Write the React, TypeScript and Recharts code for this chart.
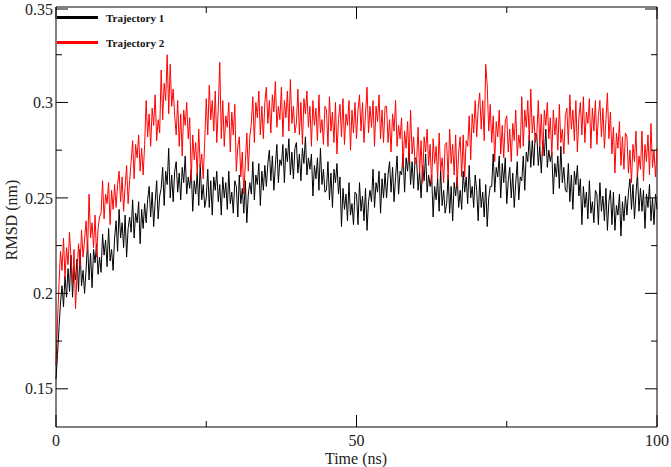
import { LineChart, Line, XAxis, YAxis, ReferenceLine, Legend } from 'recharts'

// RMSD sampled every 0.25 ns, 0 .. 100 ns (one line = 5 ns)
const sampleStepNs = 0.25

const traj1Rmsd = [
  0.155, 0.168, 0.182, 0.195, 0.204, 0.193, 0.209, 0.198, 0.213, 0.201, 0.220, 0.198, 0.214, 0.207, 0.218, 0.201, 0.223, 0.204, 0.212, 0.200,
  0.212, 0.227, 0.207, 0.221, 0.203, 0.223, 0.216, 0.226, 0.210, 0.219, 0.211, 0.231, 0.220, 0.228, 0.214, 0.234, 0.217, 0.223, 0.212, 0.229,
  0.238, 0.222, 0.244, 0.229, 0.237, 0.224, 0.241, 0.219, 0.234, 0.240, 0.232, 0.249, 0.229, 0.242, 0.237, 0.248, 0.226, 0.244, 0.234, 0.247,
  0.237, 0.249, 0.256, 0.240, 0.253, 0.235, 0.248, 0.259, 0.239, 0.251, 0.255, 0.266, 0.246, 0.264, 0.257, 0.276, 0.250, 0.262, 0.248, 0.264,
  0.269, 0.253, 0.263, 0.249, 0.266, 0.258, 0.272, 0.252, 0.261, 0.255, 0.265, 0.243, 0.259, 0.252, 0.263, 0.246, 0.268, 0.249, 0.257, 0.245,
  0.250, 0.265, 0.245, 0.259, 0.241, 0.261, 0.254, 0.264, 0.248, 0.257, 0.241, 0.261, 0.250, 0.258, 0.244, 0.264, 0.247, 0.253, 0.242, 0.259,
  0.256, 0.240, 0.262, 0.247, 0.255, 0.242, 0.259, 0.237, 0.252, 0.258, 0.252, 0.269, 0.249, 0.262, 0.257, 0.268, 0.246, 0.264, 0.254, 0.267,
  0.256, 0.268, 0.275, 0.259, 0.272, 0.254, 0.267, 0.278, 0.258, 0.270, 0.267, 0.278, 0.258, 0.276, 0.269, 0.281, 0.262, 0.274, 0.260, 0.276,
  0.279, 0.263, 0.273, 0.259, 0.276, 0.268, 0.282, 0.262, 0.271, 0.265, 0.273, 0.251, 0.267, 0.260, 0.271, 0.254, 0.276, 0.257, 0.265, 0.253,
  0.254, 0.269, 0.249, 0.263, 0.245, 0.265, 0.258, 0.268, 0.252, 0.261, 0.235, 0.255, 0.244, 0.252, 0.238, 0.258, 0.241, 0.247, 0.236, 0.253,
  0.252, 0.236, 0.258, 0.243, 0.251, 0.238, 0.255, 0.233, 0.248, 0.254, 0.248, 0.265, 0.245, 0.258, 0.253, 0.264, 0.242, 0.260, 0.250, 0.263,
  0.250, 0.262, 0.269, 0.253, 0.266, 0.248, 0.261, 0.272, 0.252, 0.264, 0.262, 0.273, 0.253, 0.271, 0.264, 0.276, 0.257, 0.269, 0.255, 0.271,
  0.270, 0.254, 0.264, 0.250, 0.267, 0.259, 0.273, 0.253, 0.262, 0.256, 0.262, 0.240, 0.256, 0.249, 0.260, 0.243, 0.265, 0.246, 0.254, 0.242,
  0.247, 0.262, 0.242, 0.256, 0.238, 0.258, 0.251, 0.261, 0.245, 0.254, 0.244, 0.264, 0.253, 0.261, 0.247, 0.267, 0.250, 0.256, 0.245, 0.262,
  0.254, 0.238, 0.260, 0.245, 0.253, 0.240, 0.257, 0.235, 0.250, 0.256, 0.256, 0.273, 0.253, 0.266, 0.261, 0.272, 0.250, 0.268, 0.258, 0.271,
  0.247, 0.259, 0.266, 0.250, 0.263, 0.245, 0.258, 0.269, 0.249, 0.261, 0.259, 0.272, 0.254, 0.274, 0.269, 0.283, 0.266, 0.280, 0.267, 0.284,
  0.283, 0.267, 0.277, 0.263, 0.280, 0.272, 0.286, 0.266, 0.275, 0.269, 0.274, 0.252, 0.268, 0.261, 0.272, 0.255, 0.277, 0.258, 0.266, 0.254,
  0.253, 0.268, 0.248, 0.262, 0.244, 0.264, 0.257, 0.267, 0.251, 0.260, 0.236, 0.256, 0.245, 0.253, 0.239, 0.259, 0.242, 0.248, 0.237, 0.254,
  0.252, 0.236, 0.258, 0.243, 0.251, 0.238, 0.255, 0.233, 0.248, 0.254, 0.236, 0.253, 0.233, 0.246, 0.241, 0.252, 0.230, 0.248, 0.238, 0.251,
  0.241, 0.253, 0.260, 0.244, 0.257, 0.239, 0.252, 0.263, 0.243, 0.255, 0.243, 0.254, 0.234, 0.252, 0.245, 0.257, 0.238, 0.250, 0.236, 0.252,
  0.244,
]

const traj2Rmsd = [
  0.162, 0.185, 0.205, 0.222, 0.212, 0.229, 0.208, 0.224, 0.215, 0.232, 0.218, 0.205, 0.223, 0.192, 0.210, 0.226, 0.214, 0.233, 0.219, 0.228,
  0.238, 0.222, 0.252, 0.229, 0.237, 0.224, 0.241, 0.219, 0.234, 0.240, 0.242, 0.259, 0.239, 0.252, 0.247, 0.258, 0.236, 0.254, 0.244, 0.257,
  0.245, 0.257, 0.264, 0.248, 0.261, 0.243, 0.256, 0.267, 0.247, 0.259, 0.269, 0.280, 0.260, 0.278, 0.271, 0.283, 0.264, 0.276, 0.262, 0.278,
  0.301, 0.282, 0.294, 0.277, 0.297, 0.288, 0.304, 0.280, 0.291, 0.284, 0.317, 0.291, 0.310, 0.301, 0.325, 0.294, 0.320, 0.298, 0.307, 0.293,
  0.283, 0.301, 0.277, 0.294, 0.272, 0.296, 0.288, 0.300, 0.281, 0.292, 0.259, 0.283, 0.270, 0.279, 0.262, 0.286, 0.266, 0.273, 0.260, 0.280,
  0.302, 0.283, 0.309, 0.291, 0.301, 0.285, 0.306, 0.279, 0.297, 0.321, 0.281, 0.301, 0.277, 0.293, 0.287, 0.300, 0.274, 0.295, 0.283, 0.299,
  0.264, 0.277, 0.282, 0.261, 0.274, 0.252, 0.268, 0.284, 0.264, 0.282, 0.289, 0.303, 0.279, 0.300, 0.292, 0.306, 0.283, 0.298, 0.281, 0.300,
  0.308, 0.289, 0.301, 0.284, 0.304, 0.295, 0.311, 0.287, 0.298, 0.291, 0.308, 0.282, 0.301, 0.292, 0.306, 0.285, 0.312, 0.289, 0.298, 0.284,
  0.289, 0.307, 0.283, 0.300, 0.278, 0.302, 0.294, 0.306, 0.287, 0.298, 0.277, 0.301, 0.288, 0.297, 0.280, 0.304, 0.284, 0.291, 0.278, 0.298,
  0.296, 0.277, 0.303, 0.285, 0.295, 0.279, 0.300, 0.273, 0.291, 0.299, 0.282, 0.302, 0.278, 0.294, 0.288, 0.301, 0.275, 0.296, 0.284, 0.300,
  0.281, 0.296, 0.304, 0.285, 0.300, 0.279, 0.294, 0.308, 0.284, 0.298, 0.287, 0.301, 0.277, 0.298, 0.290, 0.304, 0.281, 0.296, 0.279, 0.298,
  0.298, 0.279, 0.291, 0.274, 0.294, 0.285, 0.301, 0.277, 0.288, 0.281, 0.292, 0.266, 0.285, 0.276, 0.290, 0.269, 0.296, 0.273, 0.282, 0.268,
  0.269, 0.287, 0.263, 0.280, 0.258, 0.282, 0.274, 0.286, 0.267, 0.278, 0.257, 0.281, 0.268, 0.277, 0.260, 0.284, 0.264, 0.271, 0.258, 0.278,
  0.279, 0.260, 0.286, 0.268, 0.278, 0.262, 0.283, 0.256, 0.274, 0.282, 0.261, 0.283, 0.261, 0.280, 0.277, 0.293, 0.270, 0.294, 0.284, 0.301,
  0.282, 0.297, 0.305, 0.286, 0.301, 0.280, 0.320, 0.309, 0.285, 0.299, 0.279, 0.293, 0.269, 0.290, 0.282, 0.296, 0.273, 0.288, 0.271, 0.290,
  0.293, 0.274, 0.286, 0.269, 0.289, 0.280, 0.296, 0.272, 0.283, 0.276, 0.303, 0.277, 0.296, 0.287, 0.301, 0.280, 0.307, 0.284, 0.293, 0.279,
  0.283, 0.301, 0.277, 0.294, 0.272, 0.296, 0.288, 0.300, 0.281, 0.292, 0.272, 0.296, 0.283, 0.292, 0.275, 0.299, 0.279, 0.286, 0.273, 0.293,
  0.297, 0.278, 0.304, 0.286, 0.296, 0.280, 0.301, 0.274, 0.292, 0.300, 0.283, 0.303, 0.279, 0.295, 0.289, 0.302, 0.276, 0.297, 0.285, 0.301,
  0.278, 0.293, 0.301, 0.282, 0.297, 0.276, 0.291, 0.305, 0.281, 0.295, 0.273, 0.287, 0.263, 0.284, 0.276, 0.290, 0.267, 0.282, 0.265, 0.284,
  0.282, 0.263, 0.275, 0.258, 0.278, 0.269, 0.285, 0.261, 0.272, 0.265, 0.285, 0.259, 0.278, 0.269, 0.283, 0.262, 0.289, 0.266, 0.275, 0.261,
  0.276,
]

const xTicks = [0, 25, 50, 75, 100]
const xMajor = [0, 50, 100]
const yTicks = [0.15, 0.175, 0.2, 0.225, 0.25, 0.275, 0.3, 0.325, 0.35]
const yMajor = [0.15, 0.2, 0.25, 0.3, 0.35]

const seriesNames = ['Trajectory 1', 'Trajectory 2']
const seriesColors = ['#000000', '#ff0000']

const rows = traj1Rmsd.map((v, i) => ({
  t: i * sampleStepNs,
  traj1: v,
  traj2: traj2Rmsd[i],
}))

const W = 671
const H = 467
const PLOT_LEFT = 56
const PLOT_RIGHT = 657
const PLOT_TOP = 7
const PLOT_BOTTOM = 427
const FONT = "'Liberation Serif', 'Times New Roman', 'DejaVu Serif', serif"
const textStyle = { fontFamily: FONT, fontSize: 16 }

function YTick(props: any) {
  const { y, payload } = props
  const major = yMajor.includes(payload.value)
  const len = major ? 12 : 6
  return (
    <g>
      <line x1={PLOT_LEFT} x2={PLOT_LEFT + len} y1={y} y2={y} stroke="#000" />
      <line x1={PLOT_RIGHT} x2={PLOT_RIGHT - len} y1={y} y2={y} stroke="#000" />
      {major && (
        <text x={PLOT_LEFT - 3} y={y} dy="0.35em" textAnchor="end" fill="#222" style={textStyle}>
          {payload.value}
        </text>
      )}
    </g>
  )
}

function XTick(props: any) {
  const { x, payload } = props
  const major = xMajor.includes(payload.value)
  const len = major ? 12 : 6
  return (
    <g>
      <line x1={x} x2={x} y1={PLOT_BOTTOM} y2={PLOT_BOTTOM - len} stroke="#000" />
      <line x1={x} x2={x} y1={PLOT_TOP} y2={PLOT_TOP + len} stroke="#000" />
      {major && (
        <text x={x} y={PLOT_BOTTOM + 13} dy="0.35em" textAnchor="middle" fill="#222" style={textStyle}>
          {payload.value}
        </text>
      )}
    </g>
  )
}

function LegendBox() {
  return (
    <div style={{ fontFamily: FONT, fontWeight: 700, fontSize: 11, color: '#111' }}>
      {seriesNames.map((name, i) => (
        <div key={name} style={{ display: 'flex', alignItems: 'center', height: 25 }}>
          <div style={{ width: 41, height: 3, background: seriesColors[i], marginRight: 8 }} />
          <span>{name}</span>
        </div>
      ))}
    </div>
  )
}

export default function App() {
  return (
    <div style={{ position: 'absolute', left: 0, top: 0, width: W, height: H, background: '#fff' }}>
      <LineChart width={W} height={H} data={rows} margin={{ top: PLOT_TOP, right: W - PLOT_RIGHT, bottom: 0, left: 0 }}>
        <XAxis
          type="number"
          dataKey="t"
          domain={[0, 100]}
          ticks={xTicks}
          height={H - PLOT_BOTTOM}
          tickLine={false}
          tick={(p: any) => <XTick {...p} />}
          axisLine={{ stroke: '#000' }}
          label={{
            content: () => (
              <text x={356} y={458} dy="0.35em" textAnchor="middle" fill="#222" style={textStyle}>
                Time (ns)
              </text>
            ),
          }}
        />
        <YAxis
          type="number"
          domain={[0.13, 0.35]}
          ticks={yTicks}
          width={PLOT_LEFT}
          tickLine={false}
          tick={(p: any) => <YTick {...p} />}
          axisLine={{ stroke: '#000' }}
          allowDataOverflow
          label={{
            content: () => (
              <text
                x={11}
                y={220}
                dy="0.35em"
                textAnchor="middle"
                transform="rotate(-90 11 220)"
                fill="#222"
                style={textStyle}
              >
                RMSD (nm)
              </text>
            ),
          }}
        />
        <ReferenceLine y={0.35} stroke="#000" />
        <ReferenceLine x={100} stroke="#000" />
        <Line type="linear" dataKey="traj1" name={seriesNames[0]} stroke={seriesColors[0]} strokeWidth={1} dot={false} isAnimationActive={false} />
        <Line type="linear" dataKey="traj2" name={seriesNames[1]} stroke={seriesColors[1]} strokeWidth={1} dot={false} isAnimationActive={false} />
        <Legend
          layout="horizontal"
          verticalAlign="middle"
          align="center"
          content={() => <LegendBox />}
          wrapperStyle={{ left: PLOT_LEFT + 1, top: 5, width: 'auto' }}
        />
      </LineChart>
    </div>
  )
}
